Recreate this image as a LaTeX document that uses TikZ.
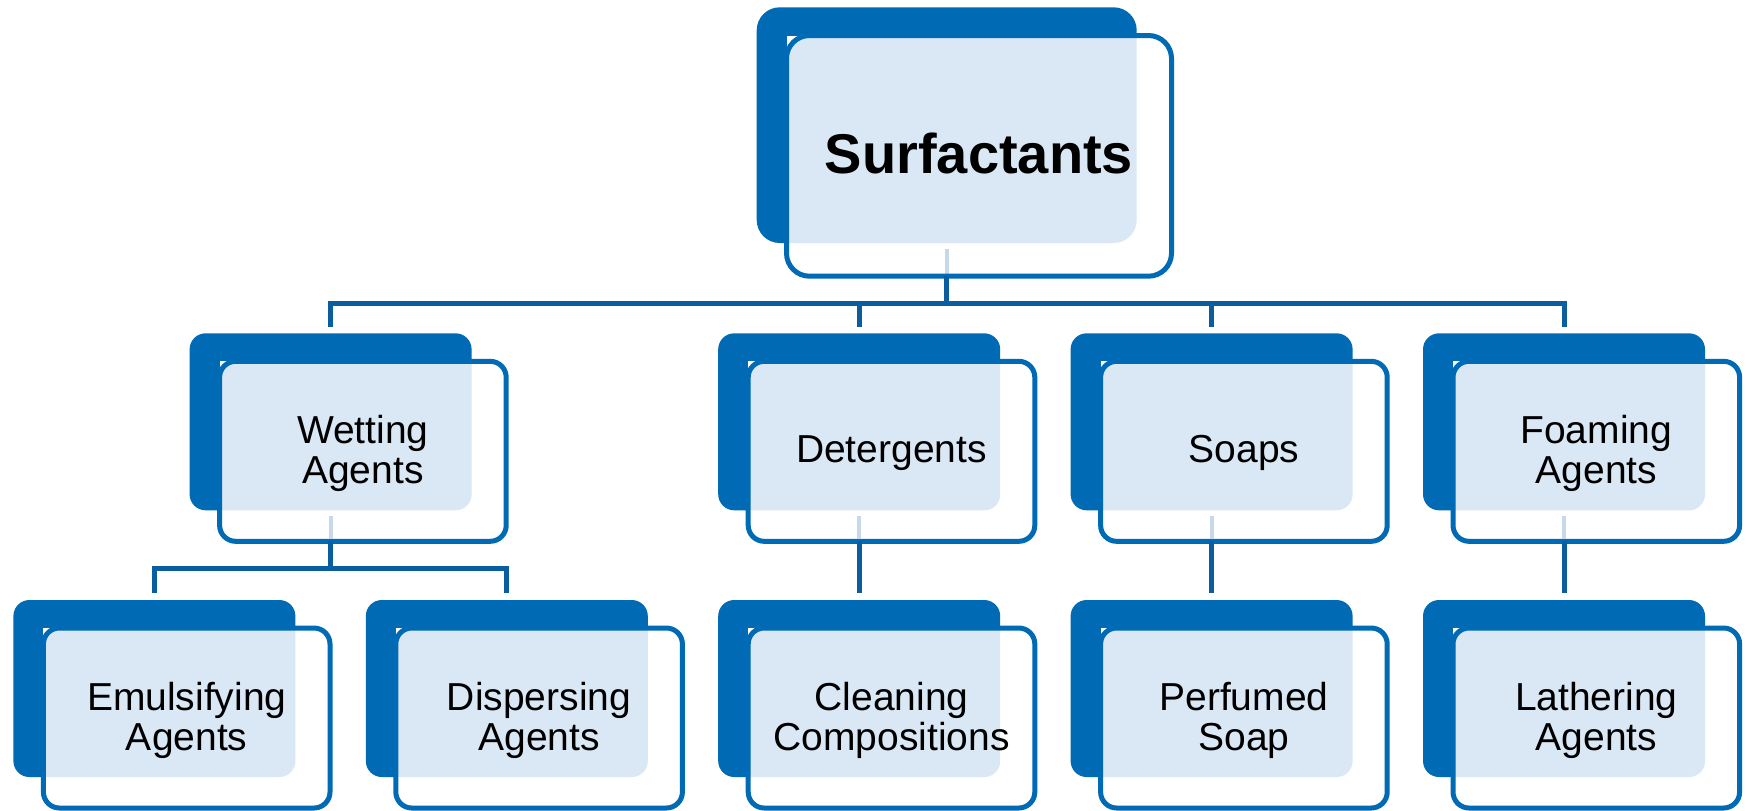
\documentclass[tikz,border=0pt]{standalone}
\usepackage{fontspec}
\setmainfont{Liberation Sans}
\usetikzlibrary{calc}
\definecolor{boxblue}{RGB}{0,106,180}
\definecolor{connblue}{RGB}{10,94,160}
\definecolor{patcol}{RGB}{218,231,244}
\definecolor{faintcol}{RGB}{198,216,236}
\tikzset{
  backS/.style={anchor=north west, minimum width=141pt, minimum height=88.5pt, inner sep=0pt, outer sep=0pt, fill=boxblue, rounded corners=8pt},
  frontS/.style={anchor=north west, minimum width=143.3pt, minimum height=90pt, inner sep=0pt, outer sep=0pt, fill=white},
  backT/.style={anchor=north west, minimum width=190pt, minimum height=117.85pt, inner sep=0pt, outer sep=0pt, fill=boxblue, rounded corners=11.5pt},
  frontT/.style={anchor=north west, minimum width=192.5pt, minimum height=120.35pt, inner sep=0pt, outer sep=0pt, fill=white},
  frontline/.style={draw=boxblue, line width=2.5pt},
  patfill/.style={fill=patcol},
  faint/.style={draw=faintcol, line width=2pt},
  conn/.style={draw=connblue, line width=2.5pt},
  txtS/.style={font=\fontsize{19.5}{20}\selectfont, align=center, text depth=0pt, inner sep=0pt, yshift=1pt},
  txtT/.style={font=\fontsize{28}{32}\selectfont\bfseries, align=center, text depth=0pt, inner sep=0pt, yshift=1.5pt}
}
\newcommand\SBox[4]{%
  \node[backS] (#1b) at (#2,#3) {};
  \node[frontS] (#1) at (#2+15,#3+14) {};
  \begin{scope}
    \clip[rounded corners=8pt] (#1.north west) rectangle (#1.south east);
    \fill[patfill, rounded corners=8pt] (#1b.north west) rectangle (#1b.south east);
  \end{scope}
  \draw[frontline, rounded corners=8pt] (#1.north west) rectangle (#1.south east);
  \node[txtS] (#1t) at (#1.center) {#4};
}
\begin{document}
\begin{tikzpicture}[x=1pt,y=-1pt]
\useasboundingbox (0,0) rectangle (874,405);
% top box
\node[backT] (surfb) at (378.35,3.65) {};
\node[frontT] (surf) at (378.35+14.9,3.65+14.1) {};
\begin{scope}
  \clip[rounded corners=11.5pt] (surf.north west) rectangle (surf.south east);
  \fill[patfill, rounded corners=11.5pt] (surfb.north west) rectangle (surfb.south east);
\end{scope}
\draw[faint, shorten <=3pt, shorten >=1.25pt] (surfb.south) -- (surfb.south |- surf.south);
\draw[frontline, rounded corners=11.5pt] (surf.north west) rectangle (surf.south east);
\node[txtT] (surft) at (surf.center) {Surfactants};
% level 2
\SBox{wet}{94.8}{166.65}{Wetting\\Agents}
\SBox{deter}{359.1}{166.65}{Detergents}
\SBox{soap}{535.3}{166.65}{Soaps}
\SBox{foam}{711.5}{166.65}{Foaming\\Agents}
% level 3
\SBox{emul}{6.7}{300}{Emulsifying\\Agents}
\SBox{disp}{182.9}{300}{Dispersing\\Agents}
\SBox{clean}{359.1}{300}{Cleaning\\Compositions}
\SBox{perf}{535.3}{300}{Perfumed\\Soap}
\SBox{lath}{711.5}{300}{Lathering\\Agents}
% faint see-through lines
\foreach \n in {wet,deter,soap,foam}{
  \draw[faint, shorten <=3pt, shorten >=1.25pt] (\n b.south) -- (\n b.south |- \n.south);
}
% connectors
\coordinate (bus1) at (473.35,151.5);
\coordinate (bus2) at (165.3,284.15);
\draw[conn] (surfb.south |- surf.south) -- (bus1);
\draw[conn, shorten <=3.3pt, shorten >=3.3pt] (wetb.north) |- (bus1) -| (foamb.north);
\draw[conn, shorten >=3.3pt] (deterb.north |- bus1) -- (deterb.north);
\draw[conn, shorten >=3.3pt] (soapb.north |- bus1) -- (soapb.north);
\draw[conn] (wetb.south |- wet.south) -- (bus2);
\draw[conn, shorten <=3.5pt, shorten >=3.5pt] (emulb.north) |- (bus2) -| (dispb.north);
\draw[conn, shorten >=3.5pt] (deterb.south |- deter.south) -- (cleanb.north);
\draw[conn, shorten >=3.5pt] (soapb.south |- soap.south) -- (perfb.north);
\draw[conn, shorten >=3.5pt] (foamb.south |- foam.south) -- (lathb.north);
\end{tikzpicture}
\end{document}
